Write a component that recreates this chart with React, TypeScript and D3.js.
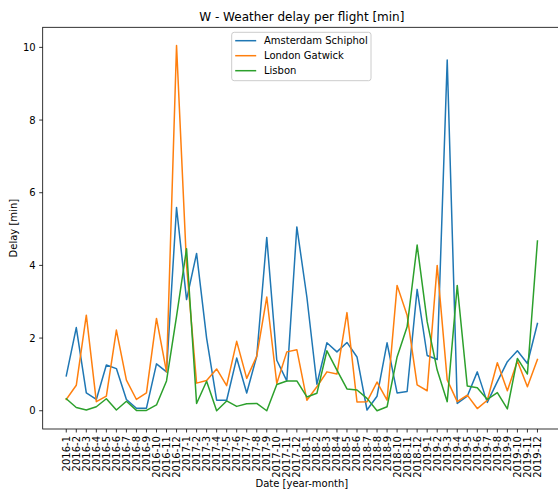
import React, { useEffect, useRef } from 'react';
import * as d3 from 'd3';

const months: string[] = [];
for (const yr of [2016, 2017, 2018, 2019]) {
  for (let m = 1; m <= 12; m++) months.push(`${yr}-${m}`);
}

const amsterdam = [
  0.96, 2.29, 0.49, 0.31, 1.26, 1.16, 0.31, 0.07, 0.07, 1.29, 1.07, 5.59,
  3.06, 4.33, 2.0, 0.29, 0.29, 1.45, 0.49, 1.5, 4.77, 1.39, 0.82, 5.06,
  3.13, 0.73, 1.87, 1.62, 1.88, 1.48, 0.02, 0.4, 1.87, 0.49, 0.53, 3.34,
  1.52, 1.41, 9.65, 0.2, 0.4, 1.07, 0.23, 0.8, 1.35, 1.65, 1.3, 2.4,
];
const gatwick = [
  0.31, 0.7, 2.63, 0.25, 0.4, 2.22, 0.84, 0.31, 0.49, 2.54, 1.07, 10.05,
  4.0, 0.76, 0.83, 1.15, 0.69, 1.91, 0.89, 1.5, 3.13, 0.75, 1.62, 1.68,
  0.29, 0.66, 1.07, 1.01, 2.7, 0.24, 0.25, 0.79, 0.29, 3.45, 2.63, 0.71,
  0.55, 4.0, 0.85, 0.25, 0.43, 0.06, 0.29, 1.32, 0.55, 1.37, 0.66, 1.41,
];
const lisbon = [
  0.33, 0.09, 0.02, 0.11, 0.33, 0.02, 0.26, 0.01, 0.01, 0.16, 0.82, 2.6,
  4.46, 0.2, 0.81, 0.0, 0.27, 0.12, 0.19, 0.2, 0.0, 0.72, 0.82, 0.82,
  0.38, 0.48, 1.65, 1.12, 0.6, 0.57, 0.34, 0.0, 0.11, 1.48, 2.31, 4.56,
  2.45, 1.12, 0.25, 3.45, 0.68, 0.63, 0.31, 0.5, 0.05, 1.44, 1.01, 4.67,
];

const seriesNames = ['Amsterdam Schiphol', 'London Gatwick', 'Lisbon'];
const seriesColors = ['#1f77b4', '#ff7f0e', '#2ca02c'];
const yTicks = [0, 2, 4, 6, 8, 10];

const App: React.FC = () => {
  const svgRef = useRef<SVGSVGElement>(null);

  useEffect(() => {
    if (!svgRef.current) return;
    const width = 558;
    const height = 490;
    const left = 42.7, right = 561, top = 27.3, bottom = 429;
    const font = 'DejaVu Sans, sans-serif';

    const svg = d3.select(svgRef.current)
      .attr('width', width)
      .attr('height', height);
    svg.selectAll('*').remove();

    const x = d3.scaleLinear().domain([-2.35, months.length - 1 + 2.35]).range([left, right]);
    const y = d3.scaleLinear().domain([-0.5025, 10.5525]).range([bottom, top]);

    // lines
    const data = [amsterdam, gatwick, lisbon];
    const line = d3.line<number>().x((_, i) => x(i)).y(d => y(d));
    data.forEach((s, k) => {
      svg.append('path')
        .datum(s)
        .attr('fill', 'none')
        .attr('stroke', seriesColors[k])
        .attr('stroke-width', 1.5)
        .attr('stroke-linejoin', 'round')
        .attr('stroke-linecap', 'square')
        .attr('d', line);
    });

    // spines
    svg.append('rect')
      .attr('x', left).attr('y', top)
      .attr('width', right - left).attr('height', bottom - top)
      .attr('fill', 'none')
      .attr('stroke', '#000')
      .attr('stroke-width', 0.8);

    // y ticks
    const yt = svg.append('g');
    yTicks.forEach(t => {
      yt.append('line')
        .attr('x1', left - 3.5).attr('x2', left)
        .attr('y1', y(t)).attr('y2', y(t))
        .attr('stroke', '#000').attr('stroke-width', 0.8);
      yt.append('text')
        .attr('x', left - 7).attr('y', y(t))
        .attr('dy', '0.35em')
        .attr('text-anchor', 'end')
        .attr('font-family', font).attr('font-size', 10)
        .attr('fill', '#000')
        .text(t);
    });

    // x ticks
    const xt = svg.append('g');
    months.forEach((m, i) => {
      xt.append('line')
        .attr('x1', x(i)).attr('x2', x(i))
        .attr('y1', bottom).attr('y2', bottom + 3.5)
        .attr('stroke', '#000').attr('stroke-width', 0.8);
      xt.append('text')
        .attr('transform', `translate(${x(i)},${bottom + 7}) rotate(-90)`)
        .attr('dy', '0.35em')
        .attr('text-anchor', 'end')
        .attr('font-family', font).attr('font-size', 10)
        .attr('fill', '#000')
        .text(m);
    });

    // labels and title
    const cx = (left + right) / 2;
    svg.append('text')
      .attr('x', cx).attr('y', 21)
      .attr('text-anchor', 'middle')
      .attr('font-family', font).attr('font-size', 12)
      .text('W - Weather delay per flight [min]');
    svg.append('text')
      .attr('x', cx).attr('y', 487)
      .attr('text-anchor', 'middle')
      .attr('font-family', font).attr('font-size', 10)
      .text('Date [year-month]');
    svg.append('text')
      .attr('transform', `translate(13,${(top + bottom) / 2}) rotate(-90)`)
      .attr('dy', '0.35em')
      .attr('text-anchor', 'middle')
      .attr('font-family', font).attr('font-size', 10)
      .text('Delay [min]');

    // legend
    const lg = svg.append('g').attr('transform', 'translate(231.7,32.3)');
    lg.append('rect')
      .attr('width', 139.3).attr('height', 48.4)
      .attr('rx', 2.5)
      .attr('fill', 'white').attr('fill-opacity', 0.8)
      .attr('stroke', '#cccccc').attr('stroke-width', 1);
    seriesNames.forEach((name, k) => {
      const ly = 8.4 + k * 15;
      lg.append('line')
        .attr('x1', 3.5).attr('x2', 24.5)
        .attr('y1', ly).attr('y2', ly)
        .attr('stroke', seriesColors[k]).attr('stroke-width', 1.5);
      lg.append('text')
        .attr('x', 32.3).attr('y', ly)
        .attr('dy', '0.35em')
        .attr('font-family', font).attr('font-size', 10)
        .text(name);
    });
  }, []);

  return (
    <svg ref={svgRef} style={{ position: 'absolute', left: 0, top: 0, background: 'white' }}></svg>
  );
};

export default App;
